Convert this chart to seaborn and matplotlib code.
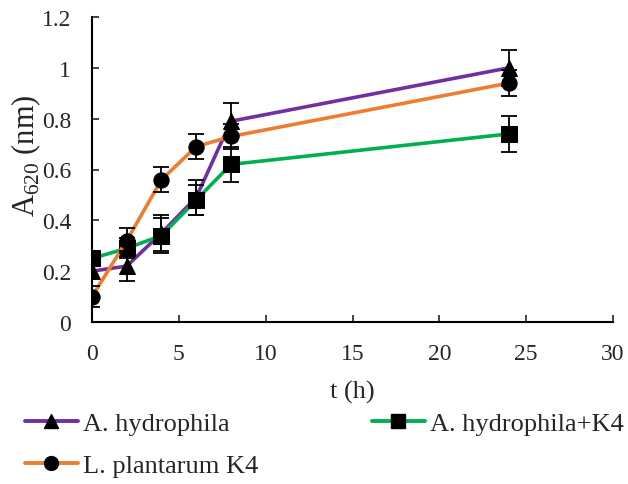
import numpy as np
import pandas as pd
import matplotlib
matplotlib.use("Agg")
import matplotlib.pyplot as plt
import seaborn as sns

# --- datos ---
time_h = [0, 2, 4, 6, 8, 24]
series_names = ["A. hydrophila", "A. hydrophila+K4", "L. plantarum K4"]
a_hydro = [0.20, 0.22, 0.35, 0.49, 0.79, 1.00]
a_hydro_err = [0.03, 0.06, 0.07, 0.07, 0.07, 0.07]
a_hydro_k4 = [0.25, 0.29, 0.34, 0.48, 0.62, 0.74]
a_hydro_k4_err = [0.02, 0.04, 0.07, 0.06, 0.07, 0.07]
l_plant = [0.10, 0.32, 0.56, 0.69, 0.73, 0.94]
l_plant_err = [0.04, 0.05, 0.05, 0.05, 0.05, 0.05]

colors = {"A. hydrophila": "#7030a0", "A. hydrophila+K4": "#00b050", "L. plantarum K4": "#ed7d31"}
markers = {"A. hydrophila": "^", "A. hydrophila+K4": "s", "L. plantarum K4": "o"}

df = pd.DataFrame({
    "t": time_h * 3,
    "A": a_hydro + a_hydro_k4 + l_plant,
    "err": a_hydro_err + a_hydro_k4_err + l_plant_err,
    "serie": [s for s in series_names for _ in time_h],
})

sns.set_style("white")
plt.rcParams["font.family"] = ["Liberation Serif", "DejaVu Serif"]
plt.rcParams["mathtext.fontset"] = "custom"
plt.rcParams["mathtext.rm"] = "Liberation Serif"

fig = plt.figure(figsize=(6.28, 4.85), dpi=100)
ax = fig.add_axes([92 / 628, 1 - 323 / 485, 521 / 628, 305 / 485])

sns.lineplot(data=df, x="t", y="A", hue="serie", style="serie",
             palette=colors, markers=markers, dashes=False,
             hue_order=series_names, style_order=series_names,
             lw=2.6, markersize=11, markeredgecolor="black",
             markerfacecolor="black", ax=ax, legend=False)

for s in series_names:
    sub = df[df["serie"] == s]
    ax.errorbar(sub["t"], sub["A"], yerr=sub["err"], fmt="none",
                ecolor="black", elinewidth=1.3, capsize=6, capthick=1.3, zorder=5)

ax.set_xlim(0, 30)
ax.set_ylim(0, 1.2)
ax.set_xticks(range(0, 31, 5))
ax.set_yticks([0, 0.2, 0.4, 0.6, 0.8, 1.0, 1.2])
ax.set_yticklabels(["0", "0.2", "0.4", "0.6", "0.8", "1", "1.2"])
ax.tick_params(direction="in", length=5, width=1.2, labelsize=17,
               left=True, bottom=True)
ax.tick_params(axis="y", pad=15)
ax.tick_params(axis="x", pad=15)
ax.set_xlabel("t (h)", fontsize=19)
ax.xaxis.set_label_coords(0.5, -0.19)
ax.set_ylabel(r"A$_{\mathrm{620}}$ (nm)", fontsize=22)
ax.yaxis.set_label_coords(-0.095, 0.55)
for side in ["top", "right"]:
    ax.spines[side].set_visible(False)
for side in ["left", "bottom"]:
    ax.spines[side].set_color("black")
    ax.spines[side].set_linewidth(1.5)

handles = [plt.Line2D([], [], color=colors[s], lw=2.8, marker=markers[s],
                      markersize=10, markerfacecolor="black",
                      markeredgecolor="black") for s in series_names]
order = [0, 2, 1]
fig.legend([handles[i] for i in order], [series_names[i] for i in order],
           loc="upper left", bbox_to_anchor=(25 / 628, 1 - 413 / 485),
           ncol=2, frameon=False, fontsize=19, handlelength=2.0,
           handletextpad=0.2, columnspacing=4.3, labelspacing=0.7,
           borderaxespad=0, borderpad=0)

fig.savefig("out.png", dpi=100)
